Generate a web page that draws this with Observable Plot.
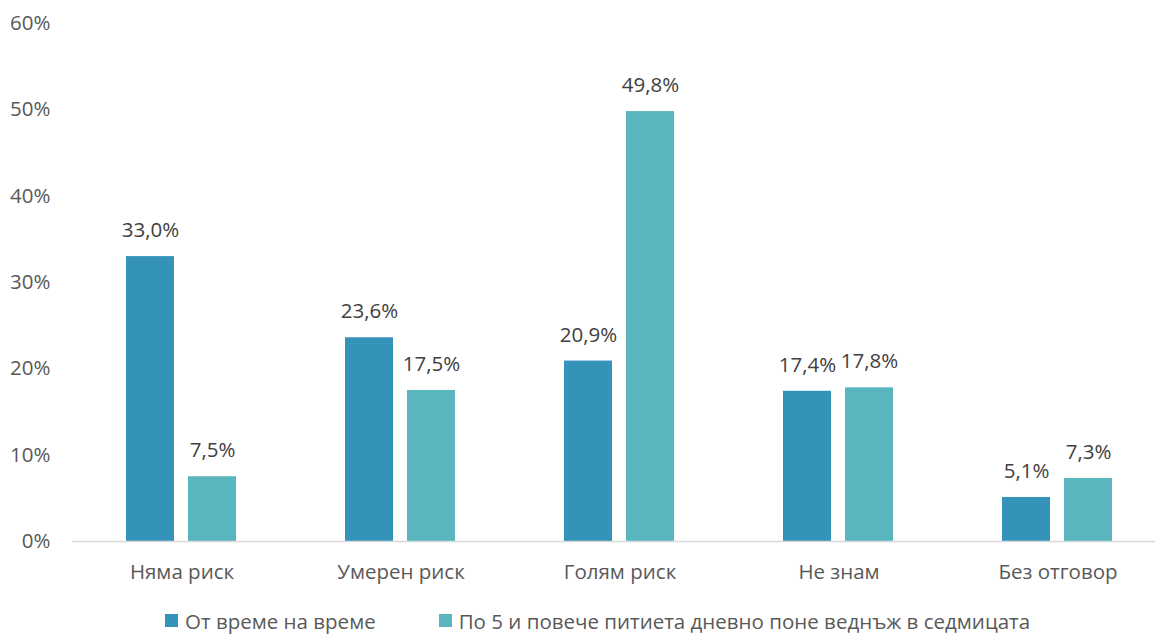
<!DOCTYPE html>
<html>
<head>
<meta charset="utf-8">
<script src="https://cdn.jsdelivr.net/npm/d3@7"></script>
<script src="https://cdn.jsdelivr.net/npm/@observablehq/plot@0.6"></script>
<style>
  html, body { margin: 0; padding: 0; background: #fff; }
  body { width: 1155px; height: 636px; overflow: hidden; font-family: "Open Sans", sans-serif; }
  #legend { display: flex; align-items: center; height: 31px; padding-left: 165px; font-size: 20.5px; color: #595959; }
  .item { display: flex; align-items: center; margin-right: 63px; }
  .sw { width: 13px; height: 13px; margin-right: 7px; }
</style>
</head>
<body>
<div id="chart"></div>
<div id="legend"></div>
<script>
const categories = ["Няма риск", "Умерен риск", "Голям риск", "Не знам", "Без отговор"];
const series = ["От време на време", "По 5 и повече питиета дневно поне веднъж в седмицата"];
const occasional = [33.0, 23.6, 20.9, 17.4, 5.1];
const weekly = [7.5, 17.5, 49.8, 17.8, 7.3];
const colors = ["#3593BA", "#59B6BF"];
const yTicks = [0, 10, 20, 30, 40, 50, 60];

const data = [];
categories.forEach((c, i) => {
  data.push({category: c, series: series[0], value: occasional[i]});
  data.push({category: c, series: series[1], value: weekly[i]});
});
const fmt = v => v.toFixed(1).replace(".", ",") + "%";

const chart = Plot.plot({
  width: 1155,
  height: 605,
  marginTop: 23,
  marginLeft: 73,
  marginRight: 0,
  marginBottom: 64,
  style: {fontFamily: "Open Sans", fontSize: "20px", background: "#fff"},
  fx: {domain: categories, padding: 0, range: [71, 1167], label: null},
  x: {domain: series, paddingInner: 0.218, paddingOuter: 0.872, axis: null},
  y: {domain: [0, 60], label: null},
  color: {domain: series, range: colors},
  marks: [
    Plot.axisY({ticks: yTicks, tickSize: 0, tickPadding: 22, tickFormat: d => d + "%", fontSize: 20.5, fill: "#595959", label: null}),
    Plot.axisFx({anchor: "bottom", tickSize: 0, tickPadding: 23, fontSize: 20.5, fill: "#595959", label: null}),
    Plot.barY(data, {fx: "category", x: "series", y: "value", fill: "series"}),
    Plot.ruleY([0], {stroke: "#d9d9d9", strokeWidth: 1.5}),
    Plot.text(data, {fx: "category", x: "series", y: "value", text: d => fmt(d.value), dy: -26, fontSize: 20.5, fill: "#404040"})
  ]
});
document.getElementById("chart").appendChild(chart);

const legend = document.getElementById("legend");
series.forEach((s, i) => {
  const item = document.createElement("div");
  item.className = "item";
  const sw = document.createElement("div");
  sw.className = "sw";
  sw.style.background = colors[i];
  const t = document.createElement("span");
  t.textContent = s;
  item.appendChild(sw);
  item.appendChild(t);
  legend.appendChild(item);
});
</script>
</body>
</html>
